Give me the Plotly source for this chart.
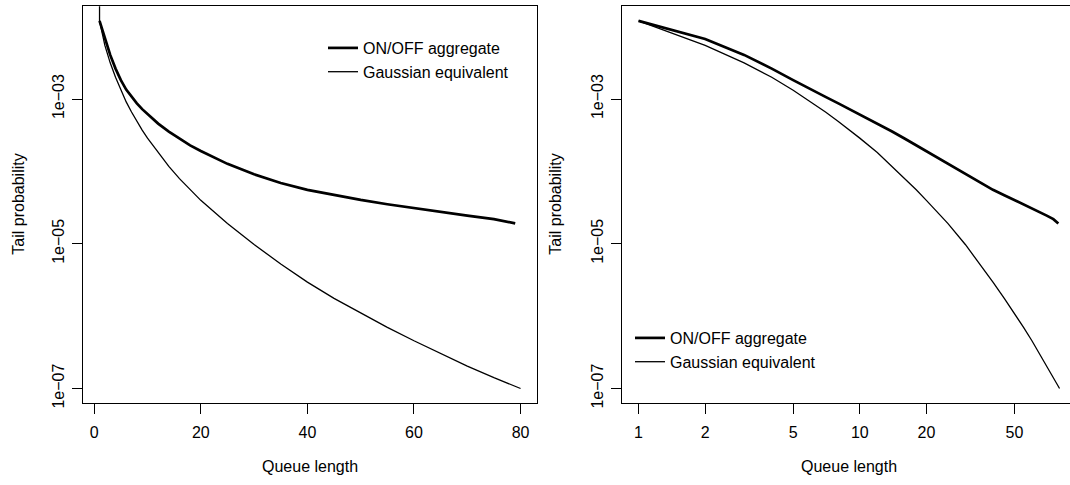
"""
Tail probability of queue length: ON/OFF aggregate vs Gaussian equivalent,
on linear and logarithmic queue-length axes.
"""

import math
import plotly.graph_objects as go

# ON/OFF aggregate (simulated), tail probability P(Q > x)
onoff_x = [1, 2, 3, 4, 5, 6, 7, 8, 9, 10, 12, 14, 16, 18, 20, 25, 30, 35,
           40, 45, 50, 55, 60, 65, 70, 75, 79]
onoff_p = [1.20e-2, 6.76e-3, 4.07e-3, 2.63e-3, 1.82e-3, 1.35e-3, 1.07e-3,
           8.71e-4, 7.24e-4, 6.17e-4, 4.57e-4, 3.55e-4, 2.82e-4, 2.29e-4,
           1.91e-4, 1.27e-4, 9.12e-5, 6.92e-5, 5.56e-5, 4.68e-5, 4.03e-5,
           3.51e-5, 3.09e-5, 2.75e-5, 2.45e-5, 2.19e-5, 1.91e-5]

# Gaussian equivalent
gauss_x = [1, 2, 3, 4, 5, 6, 7, 8, 9, 10, 12, 14, 16, 18, 20, 25, 30, 35,
           40, 45, 50, 55, 60, 65, 70, 75, 80]
gauss_p = [1.20e-2, 5.50e-3, 3.16e-3, 2.00e-3, 1.32e-3, 9.12e-4, 6.61e-4,
           4.90e-4, 3.72e-4, 2.88e-4, 1.82e-4, 1.17e-4, 7.94e-5, 5.56e-5,
           3.98e-5, 1.91e-5, 9.77e-6, 5.25e-6, 2.95e-6, 1.76e-6, 1.10e-6,
           7.00e-7, 4.57e-7, 3.02e-7, 2.04e-7, 1.41e-7, 1.00e-7]

# the left panel's Gaussian curve starts from P = 1 at x = 1
gauss_head_x = [1]
gauss_head_p = [1.0]

lin_ticks = [0, 20, 40, 60, 80]
log_ticks = [1, 2, 5, 10, 20, 50]
p_ticks = [1e-7, 1e-5, 1e-3]
p_ticktext = ["1e\u221207", "1e\u221205", "1e\u221203"]

FONT = "Liberation Sans, Arial, Helvetica, sans-serif"
W, H = 1070, 485

# plot boxes in pixels; the right panel runs past the page edge (cropped)
LEFT_BOX = (82.7, 537.4)
RIGHT_BOX_LEFT = 621.7


def padded(lo, hi, frac=0.04):
    """R-style axis range: data range extended by 4% on each side."""
    d = hi - lo
    return [lo - frac * d, hi + frac * d]


all_x = onoff_x + gauss_x
all_p = onoff_p + gauss_p
x_lin_range = padded(min(all_x), max(all_x))
y_log_range = padded(math.log10(min(all_p)), math.log10(max(all_p)))

# right panel has the same width as the left one, but only part is visible
full_log_range = padded(math.log10(min(all_x)), math.log10(max(all_x)))
box_w = LEFT_BOX[1] - LEFT_BOX[0]
visible = (W - RIGHT_BOX_LEFT) / box_w
x_log_range = [full_log_range[0],
               full_log_range[0] + (full_log_range[1] - full_log_range[0]) * visible]

fig = go.Figure()

# left panel
fig.add_trace(go.Scatter(
    x=onoff_x, y=onoff_p, mode="lines", name="ON/OFF aggregate",
    line=dict(color="black", width=2.7), xaxis="x", yaxis="y", legend="legend"
))
fig.add_trace(go.Scatter(
    x=gauss_head_x + gauss_x, y=gauss_head_p + gauss_p, mode="lines",
    name="Gaussian equivalent", line=dict(color="black", width=1.3),
    xaxis="x", yaxis="y", legend="legend"
))

# right panel
fig.add_trace(go.Scatter(
    x=onoff_x, y=onoff_p, mode="lines", name="ON/OFF aggregate",
    line=dict(color="black", width=2.7), xaxis="x2", yaxis="y2", legend="legend2"
))
fig.add_trace(go.Scatter(
    x=gauss_x, y=gauss_p, mode="lines", name="Gaussian equivalent",
    line=dict(color="black", width=1.3), xaxis="x2", yaxis="y2", legend="legend2"
))

axis_common = dict(
    showgrid=False, zeroline=False, showline=True, linecolor="black",
    linewidth=1.3, ticks="outside", ticklen=10, tickwidth=1.3,
    tickcolor="black", automargin=False,
    tickfont=dict(family=FONT, size=16, color="black"),
)
text_font = dict(family=FONT, size=16, color="black")

y_dom = [1 - 403.2 / H, 1 - 6.2 / H]

fig.update_layout(
    width=W, height=H,
    margin=dict(l=0, r=0, t=0, b=0),
    paper_bgcolor="white", plot_bgcolor="white",
    font=text_font,
    xaxis=dict(
        axis_common, domain=[LEFT_BOX[0] / W, LEFT_BOX[1] / W],
        range=x_lin_range, tickvals=lin_ticks, mirror=True, anchor="y",
        ticklabelstandoff=4,
    ),
    yaxis=dict(
        axis_common, domain=y_dom, type="log", range=y_log_range,
        tickvals=p_ticks, ticktext=p_ticktext, tickangle=-90, mirror=True,
        anchor="x", ticklabelstandoff=1,
    ),
    xaxis2=dict(
        axis_common, domain=[RIGHT_BOX_LEFT / W, 1.0], type="log",
        range=x_log_range, tickvals=log_ticks,
        ticktext=[str(t) for t in log_ticks],
        mirror=True, anchor="y2", ticklabelstandoff=4,
    ),
    yaxis2=dict(
        axis_common, domain=y_dom, type="log", range=y_log_range,
        tickvals=p_ticks, ticktext=p_ticktext, tickangle=-90, mirror=False,
        anchor="x2", ticklabelstandoff=1,
    ),
    legend=dict(
        x=323 / W, y=1 - 31 / H, xanchor="left", yanchor="top",
        bgcolor="rgba(0,0,0,0)", borderwidth=0, font=text_font,
    ),
    legend2=dict(
        x=630 / W, y=1 - 321 / H, xanchor="left", yanchor="top",
        bgcolor="rgba(0,0,0,0)", borderwidth=0, font=text_font,
    ),
)

# axis titles, placed like R's xlab/ylab (line 3 of the margin)
for xref in ["x", "x2"]:
    fig.add_annotation(
        text="Queue length", xref=f"{xref} domain", x=0.5, yref="paper",
        y=1 - 466 / H, xanchor="center", yanchor="middle", showarrow=False,
        font=text_font,
    )
for xpos, yref in [(19, "y"), (556, "y2")]:
    fig.add_annotation(
        text="Tail probability", xref="paper", x=xpos / W,
        yref=f"{yref} domain", y=0.5, xanchor="center", yanchor="middle",
        textangle=-90, showarrow=False, font=text_font,
    )

# the right x title sits under the full (uncropped) right panel
fig.layout.annotations[1].update(xref="paper",
                                 x=(RIGHT_BOX_LEFT + box_w / 2) / W)

# the page's default body margin would shift the figure by 8px
fig.write_html(
    "out.html",
    config={"displayModeBar": False},
    post_script="document.body.style.margin = '0';",
)
